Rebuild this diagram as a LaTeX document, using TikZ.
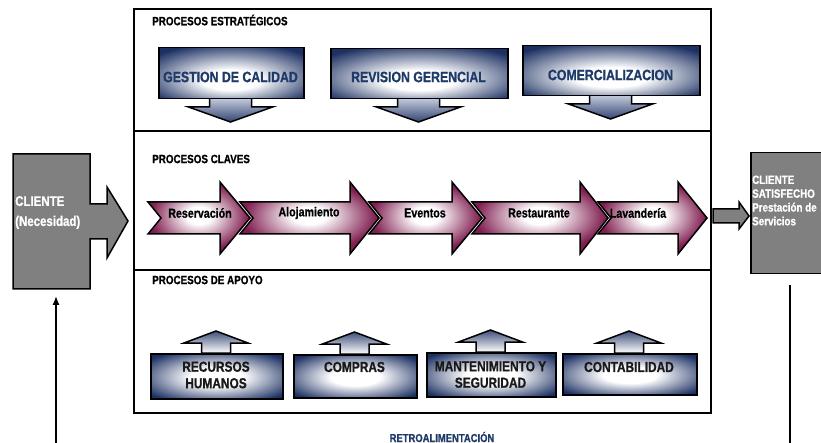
\documentclass[tikz,border=0pt]{standalone}
\usepackage{fontspec}
\usetikzlibrary{arrows.meta}
\newfontfamily\nar{Liberation Sans Bold}[FakeStretch=0.82,FakeBold=0.8]
\definecolor{navy}{RGB}{28,48,98}
\definecolor{navytext}{RGB}{30,58,104}
\definecolor{wine}{RGB}{128,30,80}
\definecolor{steel}{RGB}{196,203,220}
\definecolor{slate}{RGB}{128,128,128}
% glow fills: white core fading to a dark rim (the path box spans +-25bp)
\pgfdeclareradialshading{navyglowlow}{\pgfpoint{0bp}{-8bp}}{color(0bp)=(white); color(10bp)=(white); color(33bp)=(navy); color(50bp)=(navy)}
\pgfdeclareradialshading{navyglow}{\pgfpoint{0bp}{-1bp}}{color(0bp)=(white); color(10bp)=(white); color(32bp)=(navy); color(50bp)=(navy)}
\pgfdeclareradialshading{wineglow}{\pgfpoint{0bp}{2bp}}{color(0bp)=(white); color(6bp)=(white); color(24bp)=(wine); color(50bp)=(wine)}
\begin{document}
\begin{tikzpicture}[x=1pt,y=-1pt,line join=miter,
  outline/.style={draw=black,line width=1.5pt},
  stratbox/.style={outline,shade,shading=navyglowlow},
  stratdrop/.style={outline,top color=steel,bottom color=navy!90},
  keyarrow/.style={outline,shade,shading=wineglow},
  supbox/.style={outline,shade,shading=navyglow},
  suplift/.style={outline,top color=navy!85,bottom color=white},
  greyshape/.style={outline,fill=slate},
  stratlab/.style={font=\nar\fontsize{15}{17}\selectfont,text=navytext,inner sep=0pt},
  keylab/.style={font=\nar\fontsize{13}{15}\selectfont,text=black,inner sep=0pt},
  suplab/.style={font=\nar\fontsize{14.5}{16.5}\selectfont,text=black!90,align=center,inner sep=0pt},
  seclab/.style={font=\nar\fontsize{12}{14}\selectfont,text=black,anchor=west,inner sep=0pt},
  clilab/.style={text=white,align=left,anchor=west,inner sep=0pt}]
\useasboundingbox (0,0) rectangle (821,443);
\clip (0,0) rectangle (821,443);

% main frame with its three bands
\draw[line width=1.6pt] (134,9) rectangle (711,413);
\draw[line width=1.6pt] (134,131) -- (711,131);
\draw[line width=1.6pt] (134,270) -- (711,270);

\node[seclab] (sec1) at (152,20) {PROCESOS ESTRATÉGICOS};
\node[seclab] (sec2) at (152,159) {PROCESOS CLAVES};
\node[seclab] (sec3) at (152,280) {PROCESOS DE APOYO};

% strategic processes: boxes with a downward arrow
\foreach \nm/\x/\y/\w/\h/\ty/\txt in {
  gestion/158/47/145/51/77/GESTION DE CALIDAD,
  revision/330/48/177/50/77/REVISION GERENCIAL,
  comercial/522/45/177/50/75/COMERCIALIZACION}{
  \pgfmathsetmacro\cx{\x+\w/2}
  \pgfmathsetmacro\yb{\y+\h}
  \path[stratdrop] (\cx-21,\yb) -- (\cx-21,\yb+9) -- (\cx-42,\yb+9) -- (\cx,\yb+24)
     -- (\cx+42,\yb+9) -- (\cx+21,\yb+9) -- (\cx+21,\yb) -- cycle;
  \node[stratbox,minimum width=\w,minimum height=\h,anchor=north west] (\nm) at (\x,\y) {};
  \node[stratlab] (\nm-t) at (\cx,\ty) {\txt};
}

% key processes: chain of notched arrows
\foreach \nm/\L/\H/\T/\cx/\txt in {
  reserva/148/220/250/200/Reservación,
  aloja/240/350/379/309/Alojamiento,
  eventos/369/452/482/425/Eventos,
  restaurante/472/580/608/539/Restaurante,
  lavanderia/598/678/707/638/Lavandería}{
  \path[keyarrow] (\L,202) -- (\H,202) -- (\H,182) -- (\T,218) -- (\H,254)
     -- (\H,234) -- (\L,234) -- (\L+13,218) -- cycle;
  \node[keylab] (\nm) at (\cx,213) {\txt};
}

% support processes: boxes with an upward arrow
\foreach \nm/\x/\y/\w/\h/\ty/\txt in {
  rrhh/150/353/132/45/375/{RECURSOS\\HUMANOS},
  compras/293/354/123/43/367/COMPRAS,
  mant/426/352/129/44/374.5/{MANTENIMIENTO Y\\SEGURIDAD},
  conta/562/353/134/41/367/CONTABILIDAD}{
  \pgfmathsetmacro\cx{\x+\w/2}
  \path[suplift] (\cx-14.5,\y) -- (\cx-14.5,\y-10) -- (\cx-32,\y-10) -- (\cx,\y-22)
     -- (\cx+32,\y-10) -- (\cx+14.5,\y-10) -- (\cx+14.5,\y) -- cycle;
  \node[supbox,minimum width=\w,minimum height=\h,anchor=north west] (\nm) at (\x,\y) {};
  \node[suplab] (\nm-t) at (\cx,\ty) {\txt};
}

% incoming customer
\path[greyshape] (13,154) -- (90,154) -- (90,204) -- (107,204) -- (107,187) -- (128,221)
   -- (107,258) -- (107,239) -- (90,239) -- (90,289) -- (13,289) -- cycle;
\node[clilab,font=\nar\fontsize{14}{20}\selectfont] (cliente) at (15,212.5) {CLIENTE\\(Necesidad)};

% satisfied customer
\path[greyshape] (713,209) -- (739,209) -- (739,202) -- (749,216) -- (739,229) -- (739,223)
   -- (713,223) -- cycle;
\node[greyshape,minimum width=80,minimum height=121,anchor=north west] (satisfecho) at (750,152) {};
\node[clilab,font=\nar\fontsize{12}{13.8}\selectfont] (satisfecho-t) at (752,200.5)
  {CLIENTE\\SATISFECHO\\Prestación de\\Servicios};

% feedback loop
\coordinate (fbL) at (56,450);
\coordinate (fbLtip) at (56,296);
\coordinate (fbR) at (790,450);
\coordinate (fbRtop) at (790,285);
\draw[line width=1.3pt,-{Latex[length=9pt,width=7pt]}] (fbL) -- (fbLtip);
\draw[line width=1.3pt] (fbR) -- (fbRtop);
\node[font=\nar\fontsize{11.5}{13}\selectfont,text=navytext,inner sep=0pt] (retro) at (442,437) {RETROALIMENTACIÓN};
\end{tikzpicture}
\end{document}
